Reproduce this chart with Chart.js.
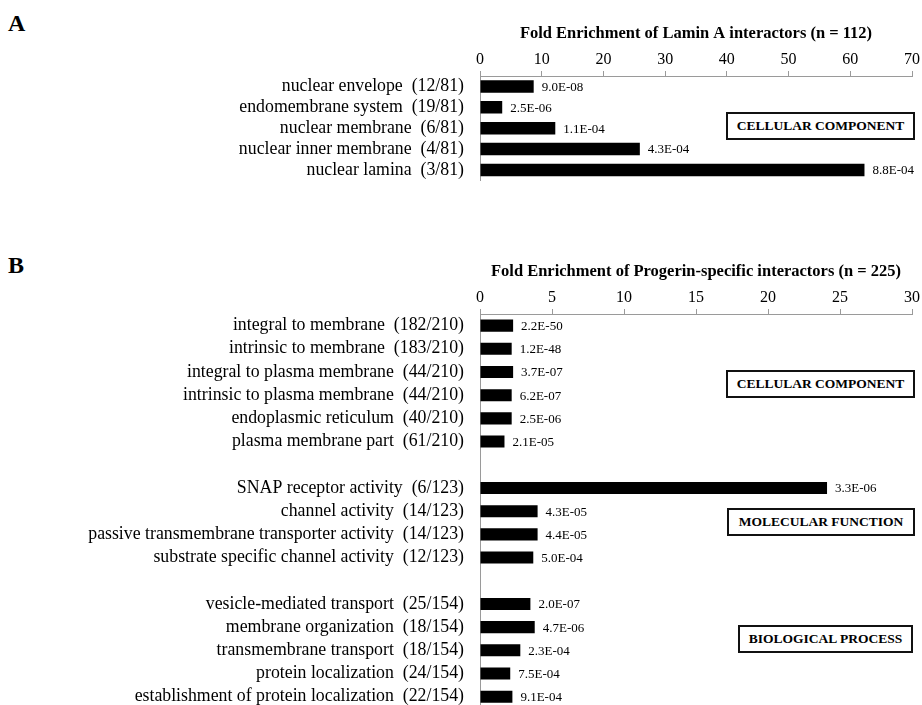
<!DOCTYPE html>
<html lang="en">
<head>
    <meta charset="UTF-8">
    <title>GO Fold Enrichment</title>
    <script src="https://cdn.jsdelivr.net/npm/chart.js"></script>
    <style>
        body {
            margin: 0;
            background: #fff;
            font-family: "Liberation Serif", serif;
        }
        #wrap {
            position: relative;
            width: 922px;
            height: 705px;
            overflow: hidden;
        }
        .letter {
            position: absolute;
            font-size: 24px;
            font-weight: bold;
        }
        .panel {
            position: absolute;
            left: 0;
            width: 922px;
        }
        .box {
            position: absolute;
            border: 2px solid #111;
            box-sizing: border-box;
            font-size: 13.5px;
            font-weight: bold;
            display: flex;
            align-items: center;
            justify-content: center;
            background: #fff;
        }
    </style>
</head>
<body>
<div id="wrap">
    <div class="letter" style="left:8px;top:10px">A</div>
    <div class="letter" style="left:8px;top:252px">B</div>

    <div class="panel" style="top:0;height:207px"><canvas id="chartA"></canvas></div>
    <div class="panel" style="top:250px;height:485px"><canvas id="chartB"></canvas></div>

    <div class="box" style="left:726px;top:112px;width:189px;height:28px">CELLULAR COMPONENT</div>
    <div class="box" style="left:726px;top:370px;width:189px;height:28px">CELLULAR COMPONENT</div>
    <div class="box" style="left:727px;top:508px;width:188px;height:28px">MOLECULAR FUNCTION</div>
    <div class="box" style="left:738px;top:625px;width:175px;height:28px">BIOLOGICAL PROCESS</div>
</div>

<script>
    // Panel A - Lamin A interactors
    const labelsA = [
        'nuclear envelope  (12/81)',
        'endomembrane system  (19/81)',
        'nuclear membrane  (6/81)',
        'nuclear inner membrane  (4/81)',
        'nuclear lamina  (3/81)'
    ];
    const foldA = [8.7, 3.6, 12.2, 25.9, 62.3];
    const pvalA = ['9.0E-08', '2.5E-06', '1.1E-04', '4.3E-04', '8.8E-04'];

    // Panel B - Progerin-specific interactors, three GO groups
    const ccLabels = [
        'integral to membrane  (182/210)',
        'intrinsic to membrane  (183/210)',
        'integral to plasma membrane  (44/210)',
        'intrinsic to plasma membrane  (44/210)',
        'endoplasmic reticulum  (40/210)',
        'plasma membrane part  (61/210)'
    ];
    const ccFold = [2.3, 2.2, 2.3, 2.2, 2.2, 1.7];
    const ccPval = ['2.2E-50', '1.2E-48', '3.7E-07', '6.2E-07', '2.5E-06', '2.1E-05'];

    const mfLabels = [
        'SNAP receptor activity  (6/123)',
        'channel activity  (14/123)',
        'passive transmembrane transporter activity  (14/123)',
        'substrate specific channel activity  (12/123)'
    ];
    const mfFold = [24.1, 4.0, 4.0, 3.7];
    const mfPval = ['3.3E-06', '4.3E-05', '4.4E-05', '5.0E-04'];

    const bpLabels = [
        'vesicle-mediated transport  (25/154)',
        'membrane organization  (18/154)',
        'transmembrane transport  (18/154)',
        'protein localization  (24/154)',
        'establishment of protein localization  (22/154)'
    ];
    const bpFold = [3.5, 3.8, 2.8, 2.1, 2.25];
    const bpPval = ['2.0E-07', '4.7E-06', '2.3E-04', '7.5E-04', '9.1E-04'];

    // blank rows separate the groups
    const labelsB = [...ccLabels, '', ...mfLabels, '', ...bpLabels];
    const foldB = [...ccFold, null, ...mfFold, null, ...bpFold];
    const pvalB = [...ccPval, '', ...mfPval, '', ...bpPval];

    const SERIF = "'Liberation Serif', serif";
    const AXIS_GREY = '#9a9a9a';

    // writes the p-value just past the end of each bar
    const pvalPlugin = {
        id: 'pvals',
        afterDatasetsDraw(chart, args, opts) {
            const ctx = chart.ctx;
            const meta = chart.getDatasetMeta(0);
            ctx.save();
            ctx.font = '13px ' + SERIF;
            ctx.fillStyle = '#000';
            ctx.textAlign = 'left';
            ctx.textBaseline = 'middle';
            meta.data.forEach((bar, i) => {
                const txt = opts.texts[i];
                if (!txt) return;
                ctx.fillText(txt, bar.x + 8, bar.y + 1);
            });
            ctx.restore();
        }
    };

    function makeChart(id, labels, values, texts, max, step, title, padTop, barPct) {
        return new Chart(document.getElementById(id), {
            type: 'bar',
            data: {
                labels: labels,
                datasets: [{
                    data: values,
                    backgroundColor: '#000',
                    borderWidth: 0,
                    barPercentage: barPct,
                    categoryPercentage: 1.0
                }]
            },
            plugins: [pvalPlugin],
            options: {
                indexAxis: 'y',
                responsive: true,
                maintainAspectRatio: false,
                animation: false,
                layout: { padding: { top: padTop, right: 10, left: 0, bottom: 12 } },
                plugins: {
                    legend: { display: false },
                    tooltip: { enabled: false },
                    pvals: { texts: texts }
                },
                scales: {
                    x: {
                        position: 'top',
                        min: 0,
                        max: max,
                        ticks: {
                            stepSize: step,
                            color: '#000',
                            font: { family: SERIF, size: 16 },
                            padding: 2
                        },
                        grid: {
                            display: true,
                            drawOnChartArea: false,
                            drawTicks: true,
                            tickLength: 5,
                            color: AXIS_GREY
                        },
                        border: { display: true, color: AXIS_GREY },
                        title: {
                            display: true,
                            text: title,
                            color: '#000',
                            font: { family: SERIF, size: 16.5, weight: 'bold' },
                            padding: { top: 0, bottom: 4 }
                        }
                    },
                    y: {
                        afterFit(scale) { scale.width = 480; },
                        ticks: {
                            color: '#000',
                            font: { family: SERIF, size: 17.8 },
                            padding: 16,
                            autoSkip: false
                        },
                        grid: { display: false, drawTicks: false },
                        border: { display: true, color: AXIS_GREY }
                    }
                }
            }
        });
    }

    makeChart('chartA', labelsA, foldA, pvalA, 70, 10,
        'Fold Enrichment of Lamin A interactors (n = 112)', 24, 0.6);
    makeChart('chartB', labelsB, foldB, pvalB, 30, 5,
        'Fold Enrichment of Progerin-specific interactors (n = 225)', 12, 0.52);
</script>
</body>
</html>
